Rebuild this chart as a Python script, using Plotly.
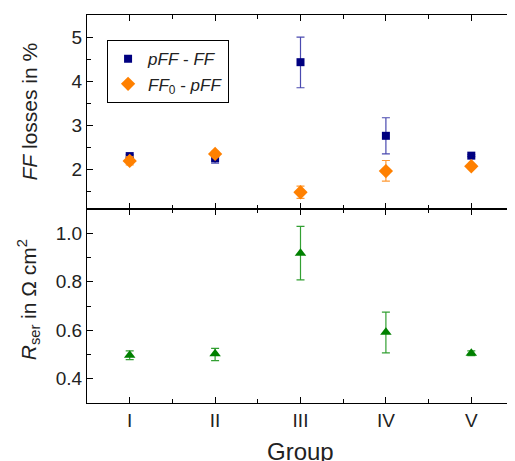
import plotly.graph_objects as go

groups = [1, 2, 3, 4, 5]
group_labels = ["I", "II", "III", "IV", "V"]

pff_ff = [2.30, 2.25, 4.43, 2.76, 2.31]
pff_ff_err_plus = [0.03, 0.03, 0.57, 0.41, 0.02]
pff_ff_err_minus = [0.03, 0.11, 0.58, 0.41, 0.02]

ff0_pff = [2.19, 2.35, 1.48, 1.96, 2.07]
ff0_pff_err_plus = [0.09, 0.06, 0.14, 0.24, 0.02]
ff0_pff_err_minus = [0.09, 0.06, 0.14, 0.23, 0.02]

rser = [0.497, 0.503, 0.918, 0.592, 0.505]
rser_err_plus = [0.018, 0.022, 0.11, 0.083, 0.01]
rser_err_minus = [0.018, 0.028, 0.11, 0.085, 0.01]

font = "Liberation Sans, Arial, sans-serif"
fig = go.Figure()

fig.add_trace(go.Scatter(
    x=groups, y=pff_ff, mode="markers", name="<i>pFF</i> - <i>FF</i>",
    marker=dict(symbol="square", size=8, color="#000080"),
    error_y=dict(type="data", symmetric=False, array=pff_ff_err_plus,
                 arrayminus=pff_ff_err_minus, color="#4a4ab0", thickness=1.2, width=4),
    xaxis="x2", yaxis="y2"))
fig.add_trace(go.Scatter(
    x=groups, y=ff0_pff, mode="markers", name="<i>FF</i><sub>0</sub> - <i>pFF</i>",
    marker=dict(symbol="diamond", size=11, color="#FF8000"),
    error_y=dict(type="data", symmetric=False, array=ff0_pff_err_plus,
                 arrayminus=ff0_pff_err_minus, color="#FF9933", thickness=1.2, width=4),
    xaxis="x2", yaxis="y2"))
fig.add_trace(go.Scatter(
    x=groups, y=rser, mode="markers", name="Rser", showlegend=False,
    marker=dict(symbol="triangle-up", size=10, color="#008000"),
    error_y=dict(type="data", symmetric=False, array=rser_err_plus,
                 arrayminus=rser_err_minus, color="#33a033", thickness=1.2, width=4),
    xaxis="x", yaxis="y"))

axis_common = dict(showline=True, linecolor="black", linewidth=1, mirror="ticks",
                   ticks="inside", ticklen=6, tickcolor="black", tickwidth=1,
                   showgrid=False, zeroline=False, automargin=False,
                   tickfont=dict(family=font, size=19, color="#222"))

minor_x = dict(tickmode="array", tickvals=[1.5, 2.5, 3.5, 4.5], ticks="inside",
               ticklen=4, tickcolor="black")

# the page body adds an 8px offset, so the figure is sized to compensate
fig.update_layout(
    width=507, height=453,
    margin=dict(l=79, r=1, t=7, b=58),
    plot_bgcolor="white", paper_bgcolor="white",
    font=dict(family=font, color="#222"),
    xaxis=dict(**axis_common, domain=[0, 1], range=[0.5, 5.5],
               tickmode="array", tickvals=groups, ticktext=group_labels,
               minor=minor_x, anchor="y"),
    yaxis=dict(**axis_common, domain=[0, 0.5], range=[0.3, 1.1],
               tickmode="array", tickvals=[0.4, 0.6, 0.8, 1.0],
               ticktext=["0.4", "0.6", "0.8", "1.0"],
               minor=dict(tickmode="array", tickvals=[0.5, 0.7, 0.9], ticks="inside",
                          ticklen=4, tickcolor="black"),
               anchor="x"),
    xaxis2=dict(**axis_common, domain=[0, 1], range=[0.5, 5.5],
                tickmode="array", tickvals=groups, ticktext=group_labels,
                showticklabels=False, minor=minor_x, anchor="y2"),
    yaxis2=dict(**axis_common, domain=[0.5, 1], range=[1.1, 5.5],
                tickmode="array", tickvals=[2, 3, 4, 5],
                minor=dict(tickmode="array", tickvals=[1.5, 2.5, 3.5, 4.5], ticks="inside",
                           ticklen=4, tickcolor="black"),
                anchor="x2"),
    legend=dict(x=0.047, y=0.935, xanchor="left", yanchor="top",
                bordercolor="black", borderwidth=1, bgcolor="white",
                font=dict(family=font, size=17, color="#222"),
                itemwidth=30, tracegroupgap=0),
    annotations=[
        dict(text="<i>FF</i> losses in %", textangle=-90, xref="paper", yref="paper",
             x=-0.137, y=0.75, xanchor="center", yanchor="middle", showarrow=False,
             font=dict(family=font, size=21, color="#222")),
        dict(text="<i>R</i><sub>ser</sub> in Ω cm<sup>2</sup>", textangle=-90,
             xref="paper", yref="paper", x=-0.137, y=0.266, xanchor="center",
             yanchor="middle", showarrow=False,
             font=dict(family=font, size=21, color="#222")),
        dict(text="Group", xref="paper", yref="paper", x=0.5, y=-0.085,
             xanchor="center", yanchor="top", showarrow=False,
             font=dict(family=font, size=24, color="#222")),
    ],
)

fig.write_html("out.html")
